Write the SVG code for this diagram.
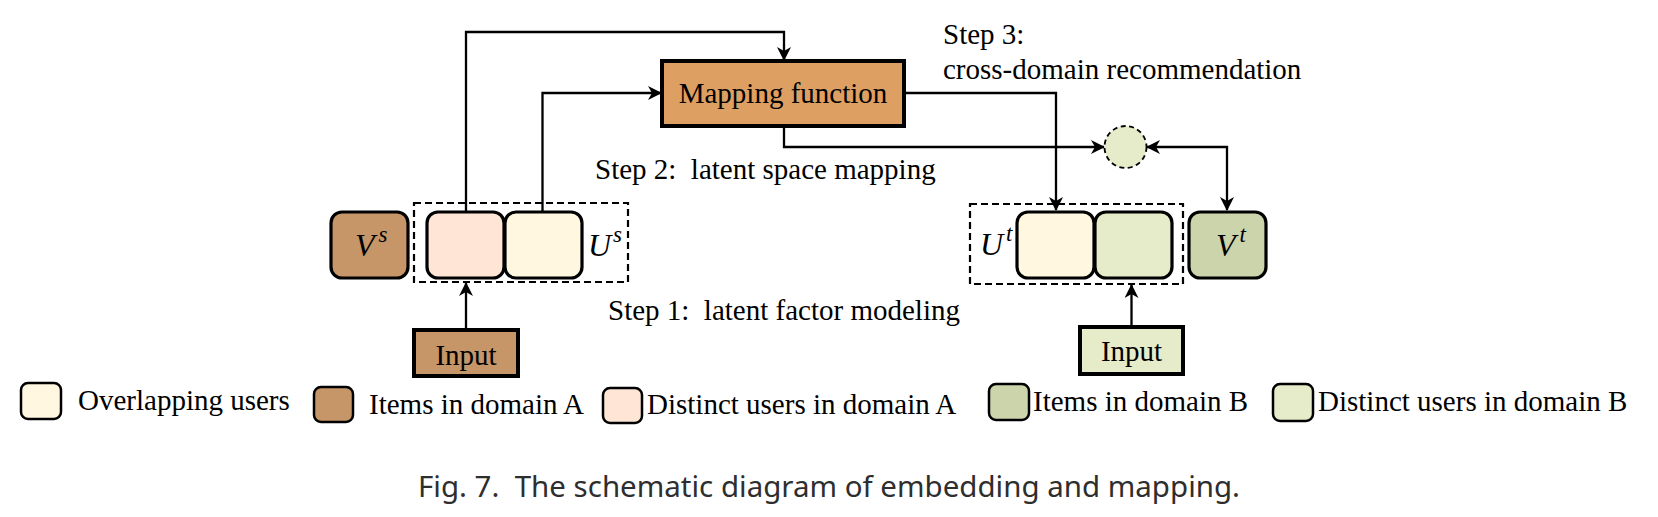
<svg xmlns="http://www.w3.org/2000/svg" width="1658" height="517" viewBox="0 0 1658 517">
<defs>
<style>
.t{font-family:"Liberation Serif","Times New Roman",serif;font-size:29px;fill:#000}
.m{font-family:"Liberation Serif","Times New Roman",serif;font-style:italic;font-size:32px;fill:#000}
.sup{font-size:23px}
.node{stroke:#000;stroke-width:3.2}
.sq{stroke:#000;stroke-width:4}
.dash{fill:none;stroke:#000;stroke-width:2.2;stroke-dasharray:7 4}
.lg{stroke:#000;stroke-width:2.5}
.c{fill:none;stroke:#000;stroke-width:2.3}
.brownA{fill:#c69568}
.orange{fill:#dda062}
.peach{fill:#fee5d5}
.cream{fill:#fff7e0}
.lgreen{fill:#e6ebca}
.dgreen{fill:#cbd4ab}
</style>
<marker id="ah" viewBox="0 0 14 14" refX="13" refY="7" markerWidth="14" markerHeight="14" markerUnits="userSpaceOnUse" orient="auto-start-reverse">
<path d="M0,0 L14,7 L0,14 L4,7 z" fill="#000"/>
</marker>
</defs>
<rect width="1658" height="517" fill="#fff"/>

<g id="connectors">
<path class="c" d="M466,211 V32 H784 V60" marker-end="url(#ah)"/>
<path class="c" d="M542.5,211 V93 H661" marker-end="url(#ah)"/>
<path class="c" d="M904,93 H1056 V210" marker-end="url(#ah)"/>
<path class="c" d="M784,126 V147 H1104" marker-end="url(#ah)"/>
<path class="c" d="M1147,147 H1227 V210" marker-start="url(#ah)" marker-end="url(#ah)"/>
<path class="c" d="M466,330 V283" marker-end="url(#ah)"/>
<path class="c" d="M1131.5,327 V285" marker-end="url(#ah)"/>
</g>

<g id="mapping">
<rect class="sq orange" x="662" y="61" width="242" height="65"/>
<text class="t" x="783" y="103" text-anchor="middle">Mapping function</text>
</g>

<g id="circle">
<circle cx="1125.5" cy="147" r="21" class="lgreen" stroke="#000" stroke-width="1.8" stroke-dasharray="5 3.5"/>
</g>

<g id="Vs">
<rect class="node brownA" x="331" y="212" width="77" height="66" rx="11"/>
<text class="m" x="355" y="256">V<tspan class="sup" dx="4" dy="-14">s</tspan></text>
</g>

<g id="Us">
<rect class="dash" x="414" y="203" width="214" height="79"/>
<rect class="node peach" x="427" y="212" width="77" height="66" rx="11"/>
<rect class="node cream" x="505" y="212" width="77" height="66" rx="11"/>
<text class="m" x="588" y="256">U<tspan class="sup" dx="2" dy="-14">s</tspan></text>
</g>

<g id="inputA">
<rect class="sq brownA" x="414" y="330" width="104" height="46"/>
<text class="t" x="466" y="365" text-anchor="middle">Input</text>
</g>

<g id="Ut">
<rect class="dash" x="970" y="204" width="213" height="80"/>
<rect class="node cream" x="1017" y="212" width="77" height="66" rx="11"/>
<rect class="node lgreen" x="1095" y="212" width="77" height="66" rx="11"/>
<text class="m" x="980" y="255">U<tspan class="sup" dx="3" dy="-14">t</tspan></text>
</g>

<g id="Vt">
<rect class="node dgreen" x="1189" y="212" width="77" height="66" rx="11"/>
<text class="m" x="1216" y="256">V<tspan class="sup" dx="4" dy="-14">t</tspan></text>
</g>

<g id="inputB">
<rect class="sq lgreen" x="1080" y="327" width="103" height="47"/>
<text class="t" x="1131.5" y="361" text-anchor="middle">Input</text>
</g>

<g id="labels">
<text class="t" x="943" y="44">Step 3:</text>
<text class="t" x="943" y="79">cross-domain recommendation</text>
<text class="t" x="595" y="179" xml:space="preserve">Step 2:  latent space mapping</text>
<text class="t" x="608" y="320" xml:space="preserve">Step 1:  latent factor modeling</text>
</g>

<g id="legend">
<rect class="lg cream" x="21" y="383" width="40" height="36" rx="7"/>
<text class="t" x="78" y="410">Overlapping users</text>
<rect class="lg brownA" x="314" y="387" width="39" height="35" rx="7"/>
<text class="t" x="369" y="414">Items in domain A</text>
<rect class="lg peach" x="603" y="388" width="39" height="35" rx="7"/>
<text class="t" x="647" y="414">Distinct users in domain A</text>
<rect class="lg dgreen" x="989" y="384" width="40" height="36" rx="7"/>
<text class="t" x="1033" y="411">Items in domain B</text>
<rect class="lg lgreen" x="1273" y="384" width="40" height="37" rx="7"/>
<text class="t" x="1318" y="411">Distinct users in domain B</text>
</g>

<g id="caption">
<text x="418" y="497" font-family="'Noto Sans','DejaVu Sans',sans-serif" font-size="29" fill="#2e2e2e" textLength="822" lengthAdjust="spacingAndGlyphs" xml:space="preserve">Fig. 7.  The schematic diagram of embedding and mapping.</text>
</g>
</svg>
